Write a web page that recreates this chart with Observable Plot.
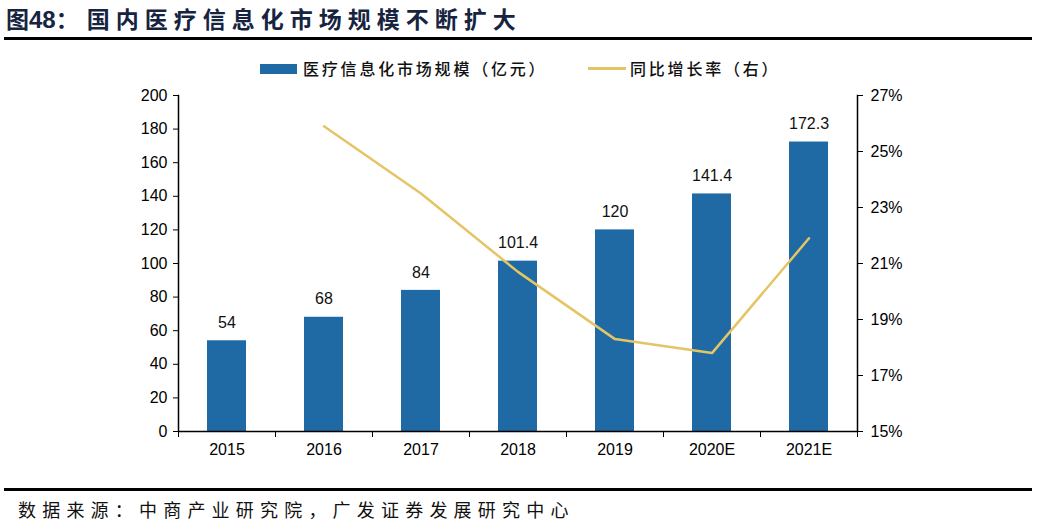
<!DOCTYPE html>
<html>
<head>
<meta charset="utf-8">
<script src="https://cdn.jsdelivr.net/npm/d3@7"></script>
<script src="https://cdn.jsdelivr.net/npm/@observablehq/plot@0.6"></script>
<style>
  html, body { margin: 0; padding: 0; background: #fff; }
  #wrap { position: relative; width: 1038px; height: 526px; overflow: hidden; font-family: "Liberation Sans", Arial, sans-serif; }
  #title { position: absolute; left: 6px; top: 1px; font-family: "Noto Sans CJK SC", sans-serif; font-weight: 700; font-size: 23px; color: #17243f; white-space: nowrap; }
  #title .num { font-family: "Liberation Sans", Arial, sans-serif; font-weight: 700; font-size: 24px; letter-spacing: 0; }
  #title .cn { letter-spacing: 6px; margin-left: 8px; }
  #rule1 { position: absolute; left: 4px; width: 1028px; top: 37px; height: 3px; background: #000; }
  #legend { position: absolute; top: 57px; left: 0; width: 1038px; height: 22px; font-family: "Noto Sans CJK SC", sans-serif; font-size: 16px; font-weight: 500; color: #111; }
  .sw { position: absolute; }
  .lt { position: absolute; top: 0; line-height: 22px; white-space: nowrap; letter-spacing: 2.8px; }
  #chart { position: absolute; left: 0; top: 80px; }
  #rule2 { position: absolute; left: 4px; width: 1028px; top: 488px; height: 3px; background: #000; }
  #src { position: absolute; left: 18px; top: 496px; font-family: "Noto Sans CJK SC", sans-serif; font-size: 18px; color: #111; white-space: nowrap; letter-spacing: 6.2px; }
</style>
</head>
<body>
<div id="wrap">
  <div id="title">图<span class="num">48</span>：<span class="cn">国内医疗信息化市场规模不断扩大</span></div>
  <div id="rule1"></div>
  <div id="legend"></div>
  <div id="chart"></div>
  <div id="rule2"></div>
  <div id="src">数据来源：中商产业研究院，广发证券发展研究中心</div>
</div>
<script>
const years = ["2015", "2016", "2017", "2018", "2019", "2020E", "2021E"];
const marketSize = [54, 68, 84, 101.4, 120, 141.4, 172.3];
const barLabels = ["54", "68", "84", "101.4", "120", "141.4", "172.3"];
const growthYears = ["2016", "2017", "2018", "2019", "2020E", "2021E"];
const growthRate = [25.9, 23.5, 20.7, 18.3, 17.8, 21.9];
const leftTicks = [0, 20, 40, 60, 80, 100, 120, 140, 160, 180, 200];
const rightTicks = [15, 17, 19, 21, 23, 25, 27];
const seriesNames = ["医疗信息化市场规模（亿元）", "同比增长率（右）"];

const barColor = "#1f69a4";
const lineColor = "#e3c566";

// legend
const legend = document.getElementById("legend");
legend.innerHTML =
  `<div class="sw" style="left:260px;top:7px;width:37px;height:10px;background:${barColor}"></div>` +
  `<div class="lt" style="left:303px">${seriesNames[0]}</div>` +
  `<div class="sw" style="left:588px;top:10px;width:38px;height:3px;background:${lineColor}"></div>` +
  `<div class="lt" style="left:630px">${seriesNames[1]}</div>`;

const bars = years.map((y, i) => ({year: y, value: marketSize[i], label: barLabels[i]}));
const growth = growthYears.map((y, i) => ({year: y, rate: growthRate[i]}));

const rMin = 15, rMax = 27, yMax = 200;
const toY = r => (r - rMin) / (rMax - rMin) * yMax;
const fromY = v => rMin + v / yMax * (rMax - rMin);

const W = 1038, H = 390;
const mL = 178, mR = 181, mT = 15, mB = 39;
const step = (W - mL - mR) / years.length;

const plot = Plot.plot({
  width: W,
  height: H,
  marginLeft: mL,
  marginRight: mR,
  marginTop: mT,
  marginBottom: mB,
  style: {fontFamily: "'Liberation Sans', Arial, sans-serif", fontSize: "16px", color: "#000", background: "transparent"},
  x: {type: "band", domain: years, paddingInner: 0.6, paddingOuter: 0.3, label: null},
  y: {domain: [0, yMax], label: null},
  marks: [
    Plot.barY(bars, {x: "year", y: "value", fill: barColor}),
    Plot.text(bars, {x: "year", y: "value", text: "label", dy: -18, fontSize: 16, fill: "#111"}),
    Plot.line(growth, {x: "year", y: d => toY(d.rate), stroke: lineColor, strokeWidth: 2.5}),
    Plot.ruleY([0], {stroke: "#000", strokeWidth: 1.5}),
    Plot.frame({anchor: "left", stroke: "#000", strokeWidth: 1.5}),
    Plot.frame({anchor: "right", stroke: "#000", strokeWidth: 1.5}),
    Plot.axisY(leftTicks, {anchor: "left", tickSize: 5, tickPadding: 6, label: null, fontSize: 16, stroke: "#000"}),
    Plot.axisY(rightTicks.map(toY), {anchor: "right", tickSize: 5, tickPadding: 8, label: null, fontSize: 16, tickFormat: v => Math.round(fromY(v)) + "%"}),
    Plot.axisX({tickSize: 0, tickPadding: 12, label: null, fontSize: 16}),
    Plot.axisX({tickSize: 6, dx: -step / 2, tickFormat: () => "", label: null}),
    Plot.axisX([years[years.length - 1]], {tickSize: 6, dx: step / 2, tickFormat: () => "", label: null})
  ]
});
document.getElementById("chart").appendChild(plot);
</script>
</body>
</html>
